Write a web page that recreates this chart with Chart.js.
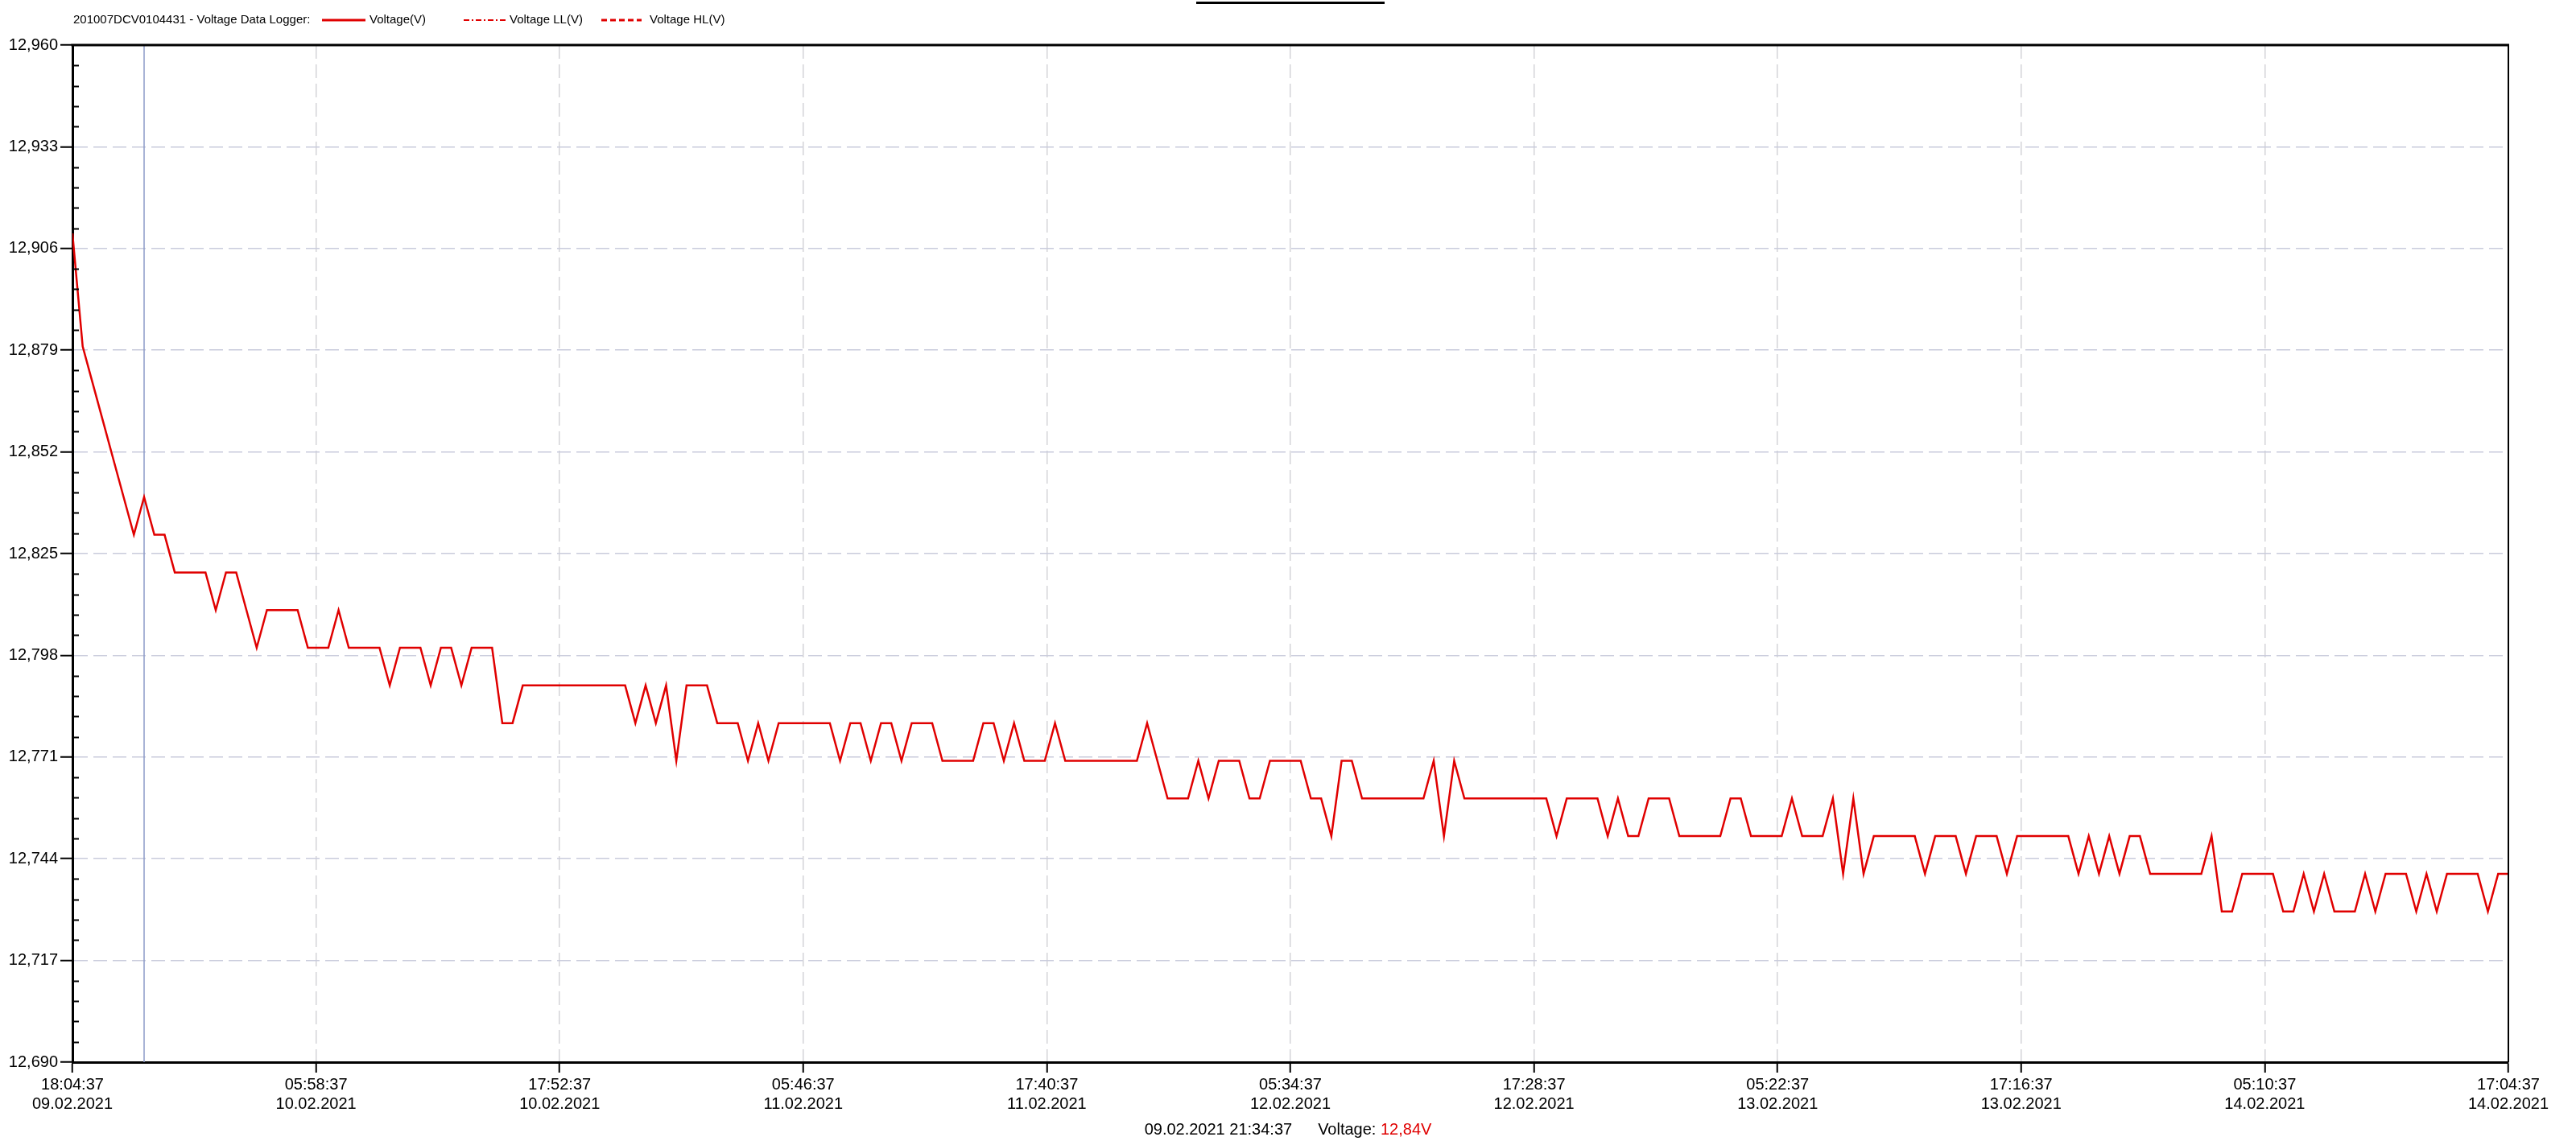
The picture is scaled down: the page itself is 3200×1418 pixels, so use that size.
<!DOCTYPE html>
<html>
<head>
<meta charset="utf-8">
<title>201007DCV0104431 - Voltage Data Logger</title>
<script src="https://cdn.jsdelivr.net/npm/chart.js@4.4.0/dist/chart.umd.min.js"></script>
<style>
  html, body { margin: 0; padding: 0; background: #fff; }
  canvas { display: block; }
</style>
</head>
<body>
<canvas id="voltageChart" width="3200" height="1418"></canvas>
<script>
// Logger readings (V), one every 30 minutes starting 09.02.2021 18:04:37
const SAMPLE_MINUTES = 30;
const voltages = [
  12.91, 12.88, 12.87, 12.86, 12.85, 12.84, 12.83, 12.84, 12.83, 12.83,
  12.82, 12.82, 12.82, 12.82, 12.81, 12.82, 12.82, 12.81, 12.80, 12.81,
  12.81, 12.81, 12.81, 12.80, 12.80, 12.80, 12.81, 12.80, 12.80, 12.80,
  12.80, 12.79, 12.80, 12.80, 12.80, 12.79, 12.80, 12.80, 12.79, 12.80,
  12.80, 12.80, 12.78, 12.78, 12.79, 12.79, 12.79, 12.79, 12.79, 12.79,
  12.79, 12.79, 12.79, 12.79, 12.79, 12.78, 12.79, 12.78, 12.79, 12.77,
  12.79, 12.79, 12.79, 12.78, 12.78, 12.78, 12.77, 12.78, 12.77, 12.78,
  12.78, 12.78, 12.78, 12.78, 12.78, 12.77, 12.78, 12.78, 12.77, 12.78,
  12.78, 12.77, 12.78, 12.78, 12.78, 12.77, 12.77, 12.77, 12.77, 12.78,
  12.78, 12.77, 12.78, 12.77, 12.77, 12.77, 12.78, 12.77, 12.77, 12.77,
  12.77, 12.77, 12.77, 12.77, 12.77, 12.78, 12.77, 12.76, 12.76, 12.76,
  12.77, 12.76, 12.77, 12.77, 12.77, 12.76, 12.76, 12.77, 12.77, 12.77,
  12.77, 12.76, 12.76, 12.75, 12.77, 12.77, 12.76, 12.76, 12.76, 12.76,
  12.76, 12.76, 12.76, 12.77, 12.75, 12.77, 12.76, 12.76, 12.76, 12.76,
  12.76, 12.76, 12.76, 12.76, 12.76, 12.75, 12.76, 12.76, 12.76, 12.76,
  12.75, 12.76, 12.75, 12.75, 12.76, 12.76, 12.76, 12.75, 12.75, 12.75,
  12.75, 12.75, 12.76, 12.76, 12.75, 12.75, 12.75, 12.75, 12.76, 12.75,
  12.75, 12.75, 12.76, 12.74, 12.76, 12.74, 12.75, 12.75, 12.75, 12.75,
  12.75, 12.74, 12.75, 12.75, 12.75, 12.74, 12.75, 12.75, 12.75, 12.74,
  12.75, 12.75, 12.75, 12.75, 12.75, 12.75, 12.74, 12.75, 12.74, 12.75,
  12.74, 12.75, 12.75, 12.74, 12.74, 12.74, 12.74, 12.74, 12.74, 12.75,
  12.73, 12.73, 12.74, 12.74, 12.74, 12.74, 12.73, 12.73, 12.74, 12.73,
  12.74, 12.73, 12.73, 12.73, 12.74, 12.73, 12.74, 12.74, 12.74, 12.73,
  12.74, 12.73, 12.74, 12.74, 12.74, 12.74, 12.73, 12.74, 12.74
];

// x axis: one tick every 11:54 (714 min)
const X_TICK_STEP = 714;
const xTickTimes = ["18:04:37", "05:58:37", "17:52:37", "05:46:37", "17:40:37", "05:34:37",
                    "17:28:37", "05:22:37", "17:16:37", "05:10:37", "17:04:37"];
const xTickDates = ["09.02.2021", "10.02.2021", "10.02.2021", "11.02.2021", "11.02.2021", "12.02.2021",
                    "12.02.2021", "13.02.2021", "13.02.2021", "14.02.2021", "14.02.2021"];

// y axis
const yTickValues = [12.690, 12.717, 12.744, 12.771, 12.798, 12.825, 12.852, 12.879, 12.906, 12.933, 12.960];
const Y_MINOR_PER_MAJOR = 5;

const legendTitle = "201007DCV0104431 - Voltage Data Logger:";
const legendNames = ["Voltage(V)", "Voltage LL(V)", "Voltage HL(V)"];

// cursor readout
const cursorIndex = 7;
const cursorLabel = "09.02.2021 21:34:37";

const FONT = "'Liberation Sans', Arial, sans-serif";
const RED = "#e00000";

const fmtComma = (v, d) => v.toFixed(d).replace(".", ",");

// Extra drawing: frame, minor ticks, cursor, legend, readout
const decorations = {
  id: "decorations",
  beforeDatasetsDraw(chart) {
    const { ctx, chartArea: a, scales: { x } } = chart;
    const cx = x.getPixelForValue(cursorIndex * SAMPLE_MINUTES);
    ctx.save();
    ctx.strokeStyle = "#8d9bc9";
    ctx.lineWidth = 1.5;
    ctx.beginPath();
    ctx.moveTo(cx, a.top);
    ctx.lineTo(cx, a.bottom);
    ctx.stroke();
    ctx.restore();
  },
  afterDraw(chart) {
    const { ctx, chartArea: a, scales: { y } } = chart;
    ctx.save();

    // top and right frame
    ctx.strokeStyle = "#000";
    ctx.lineWidth = 3;
    ctx.beginPath();
    ctx.moveTo(a.left - 1.5, a.top);
    ctx.lineTo(a.right + 1, a.top);
    ctx.stroke();
    ctx.lineWidth = 2;
    ctx.beginPath();
    ctx.moveTo(a.right, a.top);
    ctx.lineTo(a.right, a.bottom);
    ctx.stroke();

    // minor ticks on the y axis, inside the plot
    const step = (yTickValues[1] - yTickValues[0]) / Y_MINOR_PER_MAJOR;
    ctx.lineWidth = 2;
    for (let i = 0; i < yTickValues.length - 1; i++) {
      for (let k = 1; k < Y_MINOR_PER_MAJOR; k++) {
        const py = Math.round(y.getPixelForValue(yTickValues[i] + k * step)) + 0.5;
        ctx.beginPath();
        ctx.moveTo(a.left, py);
        ctx.lineTo(a.left + 8, py);
        ctx.stroke();
      }
    }

    // title underline (title text sits above the canvas)
    ctx.fillStyle = "#000";
    ctx.fillRect(1486, 2, 234, 3);

    // legend
    ctx.font = "15px " + FONT;
    ctx.textBaseline = "middle";
    ctx.fillStyle = "#000";
    ctx.fillText(legendTitle, 91, 25);

    ctx.strokeStyle = RED;
    ctx.lineWidth = 3;
    ctx.setLineDash([]);
    ctx.beginPath(); ctx.moveTo(400, 25); ctx.lineTo(454, 25); ctx.stroke();
    ctx.fillText(legendNames[0], 459, 25);

    ctx.lineWidth = 2;
    ctx.setLineDash([7, 3, 2, 3]);
    ctx.beginPath(); ctx.moveTo(576, 25); ctx.lineTo(630, 25); ctx.stroke();
    ctx.setLineDash([]);
    ctx.fillText(legendNames[1], 633, 25);

    ctx.lineWidth = 3;
    ctx.setLineDash([7, 4]);
    ctx.beginPath(); ctx.moveTo(747, 25); ctx.lineTo(797, 25); ctx.stroke();
    ctx.setLineDash([]);
    ctx.fillText(legendNames[2], 807, 25);

    // cursor readout at the bottom
    ctx.font = "20px " + FONT;
    const part1 = cursorLabel;
    const part2 = "Voltage: ";
    const part3 = fmtComma(voltages[cursorIndex], 2) + "V";
    const gap = 32;
    const w1 = ctx.measureText(part1).width;
    const w2 = ctx.measureText(part2).width;
    const w3 = ctx.measureText(part3).width;
    let tx = 1600 - (w1 + gap + w2 + w3) / 2;
    ctx.fillStyle = "#000";
    ctx.fillText(part1, tx, 1404);
    tx += w1 + gap;
    ctx.fillText(part2, tx, 1404);
    tx += w2;
    ctx.fillStyle = RED;
    ctx.fillText(part3, tx, 1404);

    ctx.restore();
  }
};

const lastX = (xTickTimes.length - 1) * X_TICK_STEP;

new Chart(document.getElementById("voltageChart"), {
  type: "line",
  data: {
    datasets: [{
      label: legendNames[0],
      data: voltages.map((v, i) => ({ x: i * SAMPLE_MINUTES, y: v })),
      borderColor: RED,
      borderWidth: 2.5,
      borderJoinStyle: "miter",
      pointRadius: 0,
      tension: 0,
      fill: false
    }]
  },
  options: {
    responsive: false,
    animation: false,
    events: [],
    layout: { padding: { top: 56, right: 84, bottom: 0, left: 0 } },
    plugins: {
      legend: { display: false },
      tooltip: { enabled: false }
    },
    scales: {
      x: {
        type: "linear",
        min: 0,
        max: lastX,
        afterBuildTicks: s => { s.ticks = xTickTimes.map((_, i) => ({ value: i * X_TICK_STEP })); },
        afterFit: s => { s.height = 98; },
        ticks: {
          autoSkip: false,
          maxRotation: 0,
          padding: 3,
          color: "#000",
          font: { family: FONT, size: 20, lineHeight: 1.22 },
          callback: (v) => {
            const i = Math.round(v / X_TICK_STEP);
            return [xTickTimes[i], xTickDates[i]];
          }
        },
        grid: {
          color: c => (c.index === 0 || c.index === xTickTimes.length - 1) ? "rgba(0,0,0,0)" : "#d4d4d8",
          lineWidth: 1.5,
          tickLength: 13,
          tickColor: "#000",
          tickWidth: 2
        },
        border: { color: "#000", width: 3, dash: [17, 7] }
      },
      y: {
        min: yTickValues[0],
        max: yTickValues[yTickValues.length - 1],
        afterBuildTicks: s => { s.ticks = yTickValues.map(v => ({ value: v })); },
        afterFit: s => { s.width = 90; },
        ticks: {
          padding: 3,
          color: "#000",
          font: { family: FONT, size: 20 },
          callback: v => fmtComma(v, 3)
        },
        grid: {
          color: c => (c.index === 0 || c.index === yTickValues.length - 1) ? "rgba(0,0,0,0)" : "#c9cbdc",
          lineWidth: 1.5,
          tickLength: 15,
          tickColor: "#000",
          tickWidth: 2
        },
        border: { color: "#000", width: 3, dash: [17, 7] }
      }
    }
  },
  plugins: [decorations]
});
</script>
</body>
</html>
